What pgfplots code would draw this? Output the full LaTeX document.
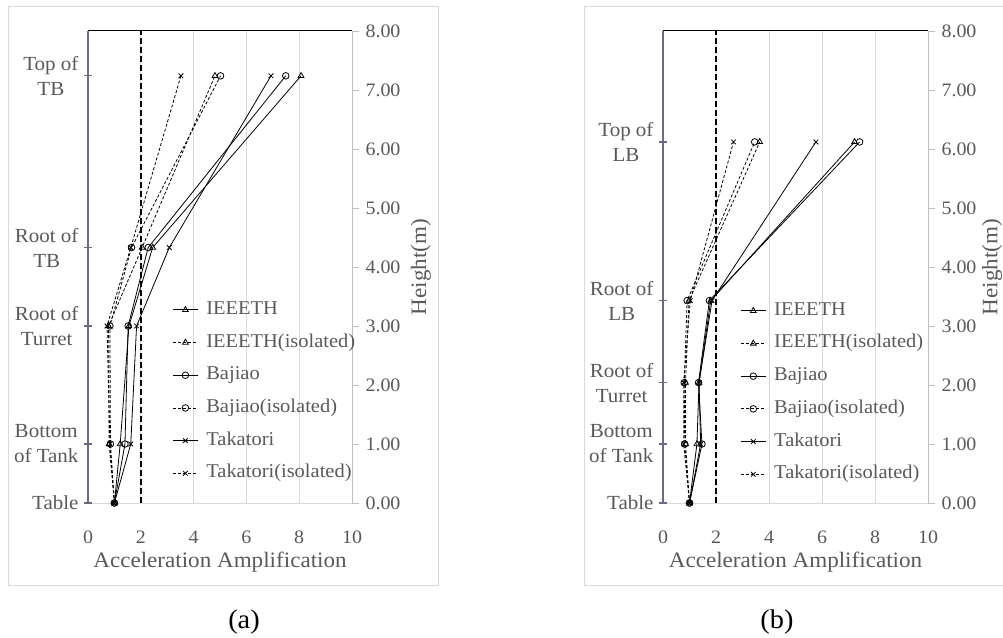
\documentclass[border=0pt]{standalone}
\usepackage{fontspec}
\setmainfont{Liberation Serif}[FakeStretch=1.05]
\usepackage{pgfplots}
\pgfplotsset{compat=1.18}
\definecolor{textgray}{HTML}{595959}
\definecolor{gridgray}{HTML}{D9D9D9}
\definecolor{rgray}{HTML}{BFBFBF}
\definecolor{lgray}{HTML}{6B6880}
\newcommand{\tickfont}{\fontsize{19}{22}\selectfont}
\newcommand{\legfont}{\fontsize{19.5}{22}\selectfont}
\newcommand{\catfont}{\fontsize{20}{25}\selectfont}
\newcommand{\labfont}{\fontsize{22}{26}\selectfont}
\pgfplotsset{
  base/.style={scale only axis, width=264pt, height=472pt, xmin=0, xmax=10, ymin=0, ymax=8, anchor=south west, clip=false},
  main/.style={base,
    axis line style={draw=none},
    xtick={0,2,...,10}, xtick pos=bottom, xmajorgrids, grid style={gridgray, line width=0.8pt},
    xtick style={draw=none},
    ytick={0,1,...,8}, ytick pos=right, yticklabel pos=right,
    ytick style={rgray, line width=0.8pt},
    tick align=outside, major tick length=7pt,
    /pgf/number format/assume math mode=true,
    yticklabel style={/pgf/number format/.cd, fixed, fixed zerofill, precision=2, /tikz/.cd, font=\tickfont, text=textgray, anchor=west, xshift=3pt},
    xticklabel style={font=\tickfont, text=textgray, anchor=center, yshift=-27pt},
    legend cell align=left,
    legend style={draw=none, fill=none, font=\legfont, text=textgray, anchor=north west,
      nodes={inner sep=0pt, text height=13.5pt, text depth=4.5pt}, row sep=14.7pt, column sep=8pt},
    legend image code/.code={\draw[mark repeat=2, mark phase=2, ##1] plot coordinates {(0pt,0pt) (12.5pt,0pt) (25pt,0pt)};},
  },
  cat/.style={base, hide x axis, axis y line*=left,
    y axis line style={lgray, line width=1.2pt, -},
    ytick style={lgray, line width=1.2pt}, tick align=center, major tick length=8pt,
    yticklabel style={align=center, font=\catfont, text=textgray, anchor=east, xshift=-2pt}},
  solidser/.style={black, line width=0.8pt, mark options={solid, mark size=3.3pt}},
  dashser/.style={black, line width=0.8pt, dash pattern=on 3pt off 2pt, mark options={solid, mark size=3.3pt}},
  refline/.style={black, line width=1.7pt, dash pattern=on 6pt off 3pt, forget plot},
}
\begin{document}
\begin{tikzpicture}
\useasboundingbox (0,0) rectangle (1003pt,637pt);
\draw[gridgray, line width=1pt] (8pt,52pt) rectangle (438pt,630pt);
\draw[gridgray, line width=1pt] (584pt,52pt) rectangle (1010pt,630pt);

% ---------------- (a) ----------------
\begin{axis}[main, at={(88pt,134pt)},
  legend style={at={(rel axis cs:0.308,0.433)}}]
\draw[gridgray, line width=0.8pt] (rel axis cs:0,0) -- (rel axis cs:1,0);
\draw[rgray, line width=0.8pt] (rel axis cs:1,0) -- (rel axis cs:1,1);
\draw[black, line width=1pt] (rel axis cs:0,1) -- (rel axis cs:1,1);
\addplot[refline] coordinates {(2,0) (2,8)};
\addplot[solidser, mark=triangle] coordinates {(1.0,0) (1.22,1) (1.55,3) (2.45,4.33) (8.07,7.24)};
\addlegendentry{IEEETH}
\addplot[dashser, mark=triangle] coordinates {(1.0,0) (0.80,1) (0.78,3) (2.05,4.33) (4.81,7.24)};
\addlegendentry{IEEETH(isolated)}
\addplot[solidser, mark=o] coordinates {(1.0,0) (1.40,1) (1.52,3) (2.28,4.33) (7.49,7.24)};
\addlegendentry{Bajiao}
\addplot[dashser, mark=o] coordinates {(1.0,0) (0.85,1) (0.83,3) (1.65,4.33) (5.02,7.24)};
\addlegendentry{Bajiao(isolated)}
\addplot[solidser, mark=x] coordinates {(1.0,0) (1.62,1) (1.84,3) (3.08,4.33) (6.93,7.24)};
\addlegendentry{Takatori}
\addplot[dashser, mark=x] coordinates {(1.0,0) (0.83,1) (0.72,3) (1.62,4.33) (3.52,7.24)};
\addlegendentry{Takatori(isolated)}
\node[font=\labfont, text=textgray] at (axis cs:5,-1.0) {Acceleration Amplification};
\node[font=\labfont, text=textgray, rotate=90] at (axis cs:12.61,4) {Height(m)};
\end{axis}
\begin{axis}[cat, at={(88pt,134pt)},
  ytick={0,1,3,4.33,7.24},
  yticklabels={Table,{Bottom\\of Tank},{Root of\\Turret},{Root of\\TB},{Top of\\TB}}]
\end{axis}

% ---------------- (b) ----------------
\begin{axis}[main, at={(663pt,134pt)}, width=265pt,
  legend style={at={(rel axis cs:0.280,0.431)}}]
\draw[gridgray, line width=0.8pt] (rel axis cs:0,0) -- (rel axis cs:1,0);
\draw[rgray, line width=0.8pt] (rel axis cs:1,0) -- (rel axis cs:1,1);
\draw[black, line width=1pt] (rel axis cs:0,1) -- (rel axis cs:1,1);
\addplot[refline] coordinates {(2,0) (2,8)};
\addplot[solidser, mark=triangle] coordinates {(1.0,0) (1.28,1) (1.36,2.04) (1.80,3.43) (7.23,6.12)};
\addlegendentry{IEEETH}
\addplot[dashser, mark=triangle] coordinates {(1.0,0) (0.85,1) (0.85,2.04) (0.98,3.43) (3.65,6.12)};
\addlegendentry{IEEETH(isolated)}
\addplot[solidser, mark=o] coordinates {(1.0,0) (1.47,1) (1.34,2.04) (1.75,3.43) (7.42,6.12)};
\addlegendentry{Bajiao}
\addplot[dashser, mark=o] coordinates {(1.0,0) (0.82,1) (0.80,2.04) (0.91,3.43) (3.46,6.12)};
\addlegendentry{Bajiao(isolated)}
\addplot[solidser, mark=x] coordinates {(1.0,0) (1.42,1) (1.36,2.04) (1.85,3.43) (5.77,6.12)};
\addlegendentry{Takatori}
\addplot[dashser, mark=x] coordinates {(1.0,0) (0.78,1) (0.78,2.04) (1.03,3.43) (2.66,6.12)};
\addlegendentry{Takatori(isolated)}
\node[font=\labfont, text=textgray] at (axis cs:5,-1.0) {Acceleration Amplification};
\node[font=\labfont, text=textgray, rotate=90] at (axis cs:12.42,4) {Height(m)};
\end{axis}
\begin{axis}[cat, at={(663pt,134pt)}, width=265pt,
  ytick={0,1,2.04,3.43,6.12},
  yticklabels={Table,{Bottom\\of Tank},{Root of\\Turret},{Root of\\LB},{Top of\\LB}}]
\end{axis}

\node[font=\fontsize{27}{31}\selectfont] at (244pt,15pt) {(a)};
\node[font=\fontsize{27}{31}\selectfont] at (777pt,15pt) {(b)};
\end{tikzpicture}
\end{document}
